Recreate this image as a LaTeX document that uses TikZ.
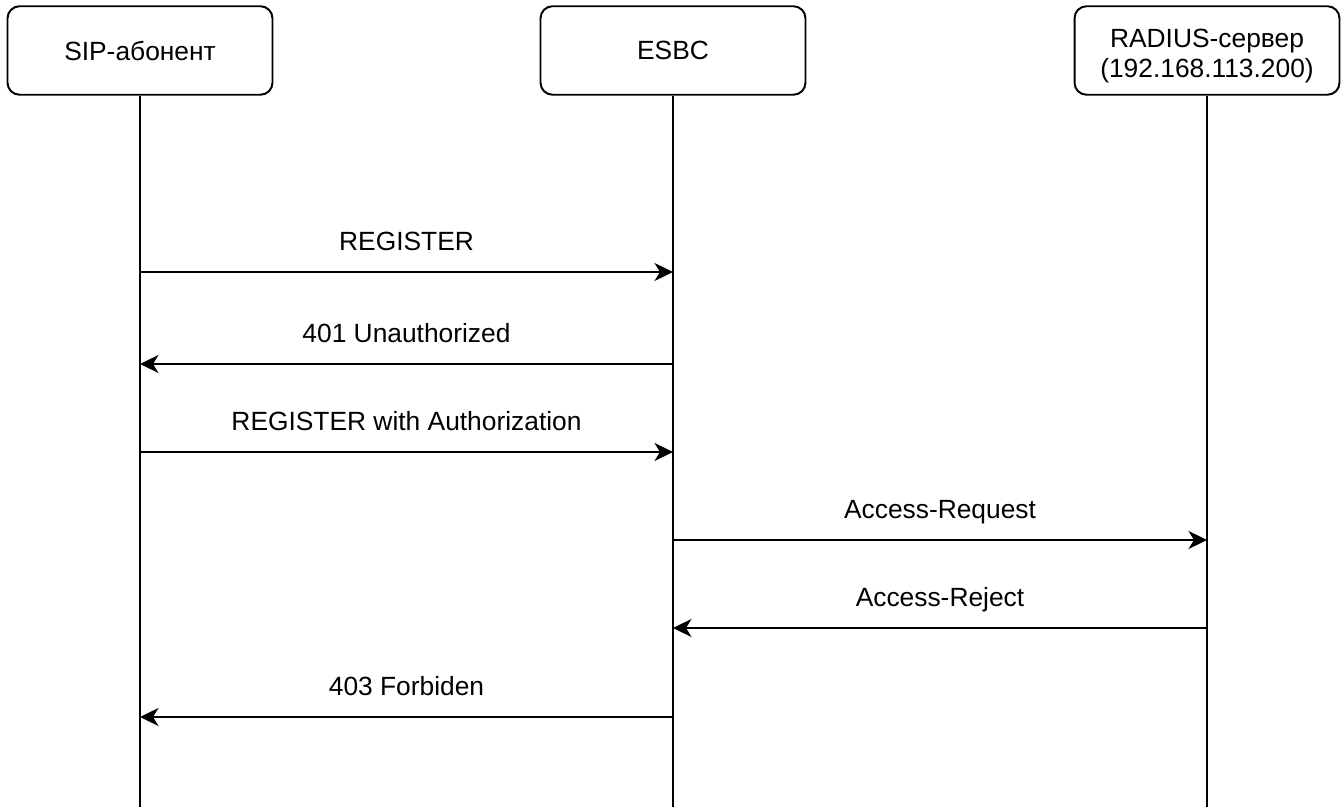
\documentclass[tikz,border=0pt]{standalone}
\usepackage{fontspec}
\setmainfont{Liberation Sans}
\usetikzlibrary{arrows.meta}

\begin{document}
\begin{tikzpicture}[x=0.02cm,y=-0.02cm,line width=1.1pt,
  >={Stealth[length=0.37cm,width=0.36cm,inset=0.11cm]},
  actor/.style={draw,rounded corners=0.24cm,minimum width=5.3cm,minimum height=1.77cm,
    align=center,inner sep=0pt,font=\fontsize{15}{17.2}\selectfont},
  msglabel/.style={midway,anchor=base,yshift=0.44cm,inner sep=0pt,font=\fontsize{15}{17.2}\selectfont}]
\useasboundingbox[fill=white] (0,0) rectangle (1343,807);
% сообщение: #1 = от, #2 = к, #3 = высота, #4 = текст
\newcommand{\sendmsg}[4]{
  \coordinate (#1#3) at (#1.south |- 0,#3);
  \coordinate (#2#3) at (#2.south |- 0,#3);
  \draw[->] (#1#3) -- node[msglabel]{#4} (#2#3);
}
% ---------- участники ----------
\node[actor] (sip) at (140,50.5) {SIP-абонент};
\node[actor] (esbc) at (673,50.5) {ESBC};
\node[actor] (radius) at (1207,50.5)
  {\raisebox{0pt}[\dimexpr\height+0.24cm][\depth]{\begin{tabular}{@{}c@{}}RADIUS-сервер\\(192.168.113.200)\end{tabular}}};
% линии жизни
\foreach \p in {sip,esbc,radius}{
  \coordinate (\p end) at (\p.south |- 0,807);
  \draw (\p.south) -- (\p end);
}
% ---------- обмен сообщениями ----------
\sendmsg{sip}{esbc}{272}{REGISTER}
\sendmsg{esbc}{sip}{364}{401 Unauthorized}
\sendmsg{sip}{esbc}{452}{REGISTER with Authorization}
\sendmsg{esbc}{radius}{540}{Access-Request}
\sendmsg{radius}{esbc}{628}{Access-Reject}
\sendmsg{esbc}{sip}{717}{403 Forbiden}
\end{tikzpicture}
\end{document}
